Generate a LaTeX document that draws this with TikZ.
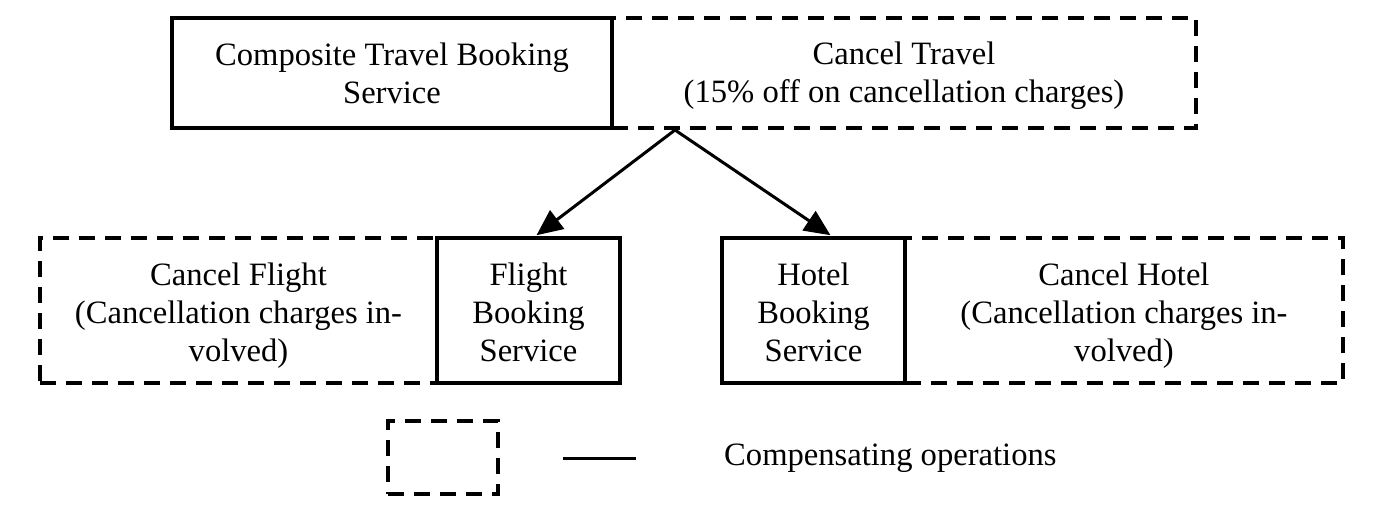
\documentclass[tikz,border=0pt]{standalone}
\usepackage{fontspec}
\setmainfont{Liberation Serif}
\usetikzlibrary{arrows.meta}
\newcommand{\boxtext}[2]{\raisebox{#1}[\height][\depth]{\begin{tabular}{@{}c@{}}#2\end{tabular}}}
\begin{document}
\begin{tikzpicture}[x=1pt,y=-1pt,
  box/.style={draw=black,line width=3.5pt,inner sep=0pt,
    font=\fontsize{32.6}{38}\selectfont},
  solidbox/.style={box},
  dashbox/.style={box,dash pattern=on 16pt off 10pt},
  conn/.style={line width=3pt,-{Triangle[length=26pt,width=23pt]}},
  legline/.style={line width=3pt},
  lbl/.style={inner sep=0pt,font=\fontsize{32.6}{38}\selectfont}]
\useasboundingbox (0,0) rectangle (1384,508);
% dashed boxes first
\node[dashbox,minimum width=584pt,minimum height=110pt] (ct) at (904,73) {\boxtext{-3pt}{Cancel Travel\\(15\% off on cancellation charges)}};
\node[dashbox,minimum width=397pt,minimum height=145pt] (cf) at (238.5,310.5) {\boxtext{-5pt}{Cancel Flight\\(Cancellation charges in-\\volved)}};
\node[dashbox,minimum width=438pt,minimum height=145pt] (ch) at (1124,310.5) {\boxtext{-5pt}{Cancel Hotel\\(Cancellation charges in-\\volved)}};
% solid boxes
\node[solidbox,minimum width=440pt,minimum height=110pt] (ctb) at (392,73) {\boxtext{-4pt}{Composite Travel Booking\\Service}};
\node[solidbox,minimum width=183pt,minimum height=145pt] (fb) at (528.5,310.5) {\boxtext{-5pt}{Flight\\Booking\\Service}};
\node[solidbox,minimum width=183pt,minimum height=145pt] (hb) at (813.5,310.5) {\boxtext{-5pt}{Hotel\\Booking\\Service}};
% connectors
\coordinate (src) at (675,130);
\draw[conn] (src) -- ([xshift=8pt,yshift=1pt]fb.north);
\draw[conn] (src) -- ([xshift=17pt,yshift=1pt]hb.north);
% legend
\node[dashbox,minimum width=110pt,minimum height=73pt] (leg) at (443,457.5) {};
\coordinate (la) at (563,458);
\coordinate (lb) at (636,458);
\draw[legline] (la) -- (lb);
\node[lbl,anchor=west] (legt) at (724,458) {Compensating operations};
\end{tikzpicture}
\end{document}
